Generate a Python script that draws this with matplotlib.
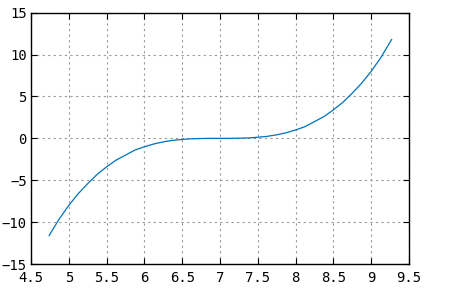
import matplotlib
matplotlib.use("Agg")
import matplotlib.pyplot as plt

# valores
x_vals = [4.74, 4.875, 5.0, 5.125, 5.25, 5.375, 5.5, 5.625, 5.75, 5.875,
          6.0, 6.125, 6.25, 6.375, 6.5, 6.625, 6.75, 6.875, 7.0,
          7.125, 7.25, 7.375, 7.5, 7.625, 7.75, 7.875, 8.0, 8.125,
          8.25, 8.375, 8.5, 8.625, 8.75, 8.875, 9.0, 9.125, 9.27]
y_vals = [-11.6, -9.6, -8.0, -6.6, -5.4, -4.3, -3.4, -2.6, -2.0, -1.4,
          -1.0, -0.67, -0.42, -0.24, -0.13, -0.05, -0.02, 0.0, 0.0,
          0.0, 0.02, 0.05, 0.13, 0.24, 0.42, 0.67, 1.0, 1.4,
          2.0, 2.6, 3.4, 4.3, 5.4, 6.6, 8.0, 9.6, 11.8]

x_ticks = [4.5, 5, 5.5, 6, 6.5, 7, 7.5, 8, 8.5, 9, 9.5]
x_labels = ["4.5", "5", "5.5", "6", "6.5", "7", "7.5", "8", "8.5", "9", "9.5"]
y_ticks = [-15, -10, -5, 0, 5, 10, 15]

plt.rcParams['font.family'] = ['DejaVu Sans Mono']

fig = plt.figure(figsize=(4.75, 2.9), dpi=100)
ax = fig.add_axes([31 / 475, 1 - 264 / 290, (409 - 31) / 475, (264 - 12.7) / 290])

ax.plot(x_vals, y_vals, color='#0072bd', linewidth=0.9)

ax.set_xlim(4.5, 9.5)
ax.set_ylim(-15, 15)
ax.set_xticks(x_ticks)
ax.set_xticklabels(x_labels)
ax.set_yticks(y_ticks)
ax.grid(True, linestyle=(0, (2, 3)), color='#999999', linewidth=0.8)
ax.tick_params(axis='x', pad=5)
ax.tick_params(axis='y', pad=3)
ax.tick_params(direction='in', top=True, right=True, length=4, width=0.8,
               labelsize=10, colors='black')
for s in ax.spines.values():
    s.set_linewidth(1.0)

fig.savefig('out.png', dpi=100)
